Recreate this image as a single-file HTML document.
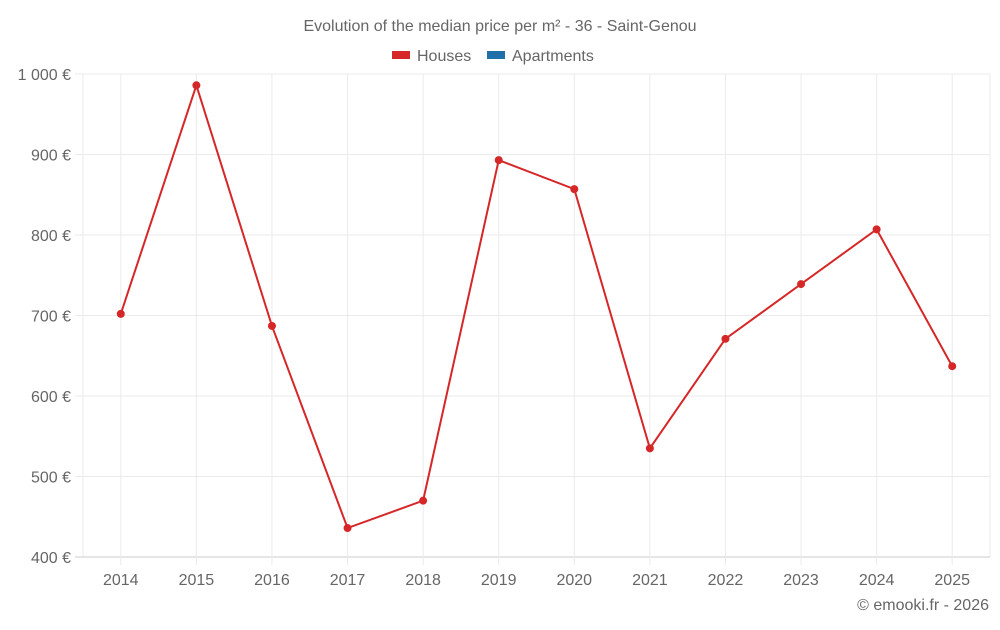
<!DOCTYPE html>
<html><head><meta charset="utf-8">
<style>
body{margin:0;background:#fff;font-family:"Liberation Sans",sans-serif;}
svg text{font-family:"Liberation Sans",sans-serif;fill:#666;}
</style></head><body>
<svg id="chart" width="1000" height="625" viewBox="0 0 1000 625">
<text x="500" y="31" text-anchor="middle" font-size="16">Evolution of the median price per m² - 36 - Saint-Genou</text>
<g>
<rect x="392" y="51" width="18" height="8" fill="#d62728"/>
<text x="417" y="61" font-size="16">Houses</text>
<rect x="487" y="51" width="18" height="8" fill="#1f6fa8"/>
<text x="512" y="61" font-size="16">Apartments</text>
</g>
<g id="grid"></g><g id="axes"></g><g id="series"></g>
<text x="989" y="610" text-anchor="end" font-size="16">© emooki.fr - 2026</text>
</svg>
<script>
const categories=["2014","2015","2016","2017","2018","2019","2020","2021","2022","2023","2024","2025"];
const houses=[702,986,687,436,470,893,857,535,671,739,807,637];
const yTicks=[400,500,600,700,800,900,1000];
const yLabels=["400 €","500 €","600 €","700 €","800 €","900 €","1 000 €"];
const L=83,R=990,T=74,B=557,yMin=400,yMax=1000;
const bw=(R-L)/categories.length;
const x=i=>L+(i+0.5)*bw;
const y=v=>B-(v-yMin)/(yMax-yMin)*(B-T);
const NS="http://www.w3.org/2000/svg";
function mk(p,t,a){const e=document.createElementNS(NS,t);for(const k in a)e.setAttribute(k,a[k]);p.appendChild(e);return e;}
const grid=document.getElementById('grid'),axes=document.getElementById('axes'),ser=document.getElementById('series');
[L,R].forEach(xx=>{
 const l=mk(grid,'line',{x1:xx,x2:xx,y1:T,y2:B,stroke:'#ebebeb'});
 
 
});
yTicks.forEach((v,i)=>{
 const l=mk(grid,'line',{x1:75,x2:R,y1:y(v),y2:y(v),stroke:i===0?'#ccc':'#ebebeb'});
 
 
 const t=mk(axes,'text',{x:71,y:y(v)+6,'text-anchor':'end','font-size':16});
 t.textContent=yLabels[i];
 
 
});
categories.forEach((c,i)=>{
 const l=mk(grid,'line',{x1:x(i),x2:x(i),y1:T,y2:B+8,stroke:'#ebebeb'});
 
 
 const t=mk(axes,'text',{x:x(i),y:585,'text-anchor':'middle','font-size':16});
 t.textContent=c;
 
 
});
const pl=mk(ser,'polyline',{points:houses.map((v,i)=>x(i)+','+y(v)).join(' '),fill:'none',stroke:'#d62728','stroke-width':2});


houses.forEach((v,i)=>{
 const c=mk(ser,'circle',{cx:x(i),cy:y(v),r:4,fill:'#d62728'});
 
 
});
</script>
</body></html>
